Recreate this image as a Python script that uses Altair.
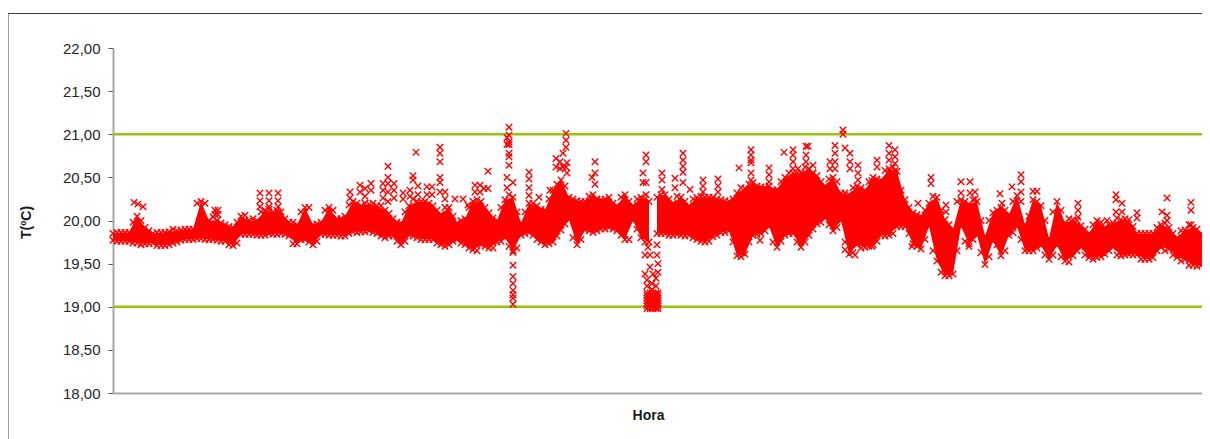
import altair as alt
import pandas as pd

# Lecturas a ojo del grafico: envolvente de la nube densa
col_x = list(range(113, 1202, 8)) + [1205]
col_lo = [19.77,19.76,19.76,19.74,19.73,19.74,19.71,19.72,19.75,19.78,
          19.78,19.79,19.78,19.77,19.76,19.71,19.84,19.84,19.83,19.83,
          19.84,19.85,19.82,19.73,19.78,19.72,19.84,19.83,19.83,19.82,
          19.87,19.87,19.88,19.85,19.80,19.82,19.72,19.83,19.80,19.78,
          19.78,19.72,19.72,19.78,19.72,19.66,19.72,19.68,19.75,19.80,
          19.65,19.83,19.86,19.78,19.72,19.75,19.89,20.01,19.72,19.89,
          19.86,19.90,19.92,19.88,19.78,20.00,19.80,19.75,19.85,19.85,
          19.83,19.83,19.83,19.78,19.75,19.81,19.86,19.88,19.59,19.61,
          19.83,19.85,19.93,19.69,19.83,19.85,19.69,19.83,19.96,20.03,
          19.88,20.00,19.61,19.72,19.69,19.72,19.83,19.83,19.93,19.93,
          19.73,19.67,19.93,19.53,19.36,19.38,19.93,19.73,19.83,19.49,
          19.76,19.59,19.83,19.93,19.65,19.65,19.71,19.55,19.71,19.53,
          19.59,19.69,19.57,19.57,19.61,19.69,19.59,19.61,19.61,19.55,
          19.57,19.69,19.67,19.57,19.55,19.48,19.48,19.58]
col_hi = [19.85,19.86,19.86,20.05,19.92,19.85,19.86,19.87,19.88,19.90,
          19.90,20.22,20.00,20.00,19.95,19.92,20.05,20.00,20.00,20.12,
          20.10,20.10,19.98,19.95,20.15,19.95,19.98,20.15,20.02,20.05,
          20.22,20.17,20.19,20.17,20.12,20.02,19.97,20.17,20.22,20.22,
          20.17,20.07,20.15,19.97,20.02,20.22,20.22,20.09,20.00,20.24,
          20.27,19.97,20.20,20.17,20.12,20.35,20.47,20.27,20.23,20.22,
          20.30,20.24,20.27,20.17,20.30,20.17,20.27,20.22,20.27,20.30,
          20.20,20.27,20.17,20.27,20.27,20.27,20.24,20.22,20.32,20.37,
          20.44,20.39,20.40,20.36,20.50,20.55,20.55,20.60,20.52,20.40,
          20.50,20.32,20.30,20.40,20.35,20.50,20.47,20.60,20.57,20.24,
          20.09,20.05,20.20,20.27,20.01,19.90,20.24,20.19,20.22,19.82,
          20.09,20.15,20.07,20.29,19.95,20.24,20.17,19.79,20.22,19.97,
          20.01,19.94,19.85,20.00,19.92,19.97,20.01,20.01,19.85,19.85,
          19.85,19.95,19.92,19.80,19.89,19.92,19.85,19.82]
gap_after = 649

# Segunda lectura, en posiciones intermedias
mid_x = [v for v in range(117, 1198, 8) if v != 653]
mid_hi = [19.86,19.86,19.98,20.00,19.88,19.86,19.86,19.90,19.89,19.90,
          20.20,20.20,20.04,19.97,19.93,19.98,20.06,20.02,20.10,20.13,
          20.12,20.02,19.98,20.10,20.15,19.96,20.12,20.12,20.02,20.18,
          20.20,20.20,20.20,20.17,20.08,19.98,20.10,20.25,20.22,20.20,
          20.12,20.15,20.05,20.00,20.15,20.24,20.15,20.03,20.15,20.30,
          20.10,20.10,20.20,20.13,20.25,20.42,20.40,20.25,20.22,20.28,
          20.25,20.25,20.20,20.27,20.22,20.25,20.25,20.30,20.25,20.28,
          20.22,20.25,20.28,20.27,20.25,20.23,20.25,20.38,20.42,20.40,
          20.38,20.35,20.45,20.55,20.55,20.62,20.55,20.45,20.48,20.45,
          20.32,20.38,20.38,20.45,20.48,20.58,20.62,20.35,20.15,20.07,
          20.12,20.28,20.12,19.95,20.22,20.22,20.24,20.00,20.00,20.12,
          20.12,20.22,20.22,20.05,20.22,20.00,20.10,20.12,20.02,20.00,
          19.90,19.95,19.98,19.95,20.03,20.02,19.93,19.85,19.85,19.92,
          19.97,19.85,19.88,19.95,19.90]
mid_lo = [19.76,19.76,19.74,19.72,19.73,19.71,19.71,19.74,19.77,19.78,
          19.79,19.78,19.78,19.76,19.72,19.74,19.84,19.84,19.83,19.85,
          19.84,19.84,19.73,19.78,19.75,19.76,19.84,19.83,19.82,19.85,
          19.86,19.87,19.86,19.82,19.82,19.76,19.76,19.82,19.78,19.78,
          19.74,19.70,19.76,19.74,19.68,19.65,19.70,19.68,19.76,19.70,
          19.68,19.85,19.83,19.75,19.73,19.82,19.96,19.80,19.78,19.88,
          19.88,19.90,19.90,19.83,19.78,19.90,19.75,19.85,19.83,19.84,
          19.82,19.80,19.76,19.76,19.83,19.86,19.75,19.58,19.75,19.84,
          19.88,19.75,19.76,19.85,19.75,19.75,19.90,19.98,19.95,19.92,
          19.75,19.63,19.68,19.70,19.76,19.82,19.85,19.93,19.85,19.70,
          19.78,19.65,19.40,19.36,19.65,19.76,19.78,19.63,19.58,19.72,
          19.65,19.86,19.78,19.65,19.68,19.60,19.60,19.58,19.52,19.65,
          19.60,19.55,19.58,19.65,19.60,19.60,19.60,19.55,19.55,19.65,
          19.65,19.60,19.53,19.48,19.47]

# Puntos sueltos: (posicion, [temperaturas])
sparse = [
    (134,[20.21]),(138,[20.19]),(143,[20.16]),(215,[20.12,20.07]),(218,[20.12,20.07]),
    (260,[20.32,20.23,20.16]),(269,[20.32,20.23,20.16]),(278,[20.32,20.23,20.16,20.09]),
    (350,[20.33,20.26]),(360,[20.41,20.33]),(365,[20.37,20.28]),(371,[20.43,20.35]),
    (383,[20.43,20.35,20.26]),(388,[20.63,20.50,20.43,20.33,20.22]),(394,[20.43,20.35,20.26]),
    (403,[20.32,20.25]),(410,[20.35,20.28]),(413,[20.52,20.47]),(416,[20.79]),(418,[20.40,20.30]),
    (427,[20.39,20.30]),(432,[20.39,20.30]),(440,[20.85,20.78,20.68,20.50,20.44,20.33]),
    (445,[20.33,20.25]),(455,[20.25]),(463,[20.25]),(468,[20.18]),(475,[20.41,20.33]),
    (480,[20.41,20.33]),(484,[20.37]),(488,[20.57,20.37]),
    (507,[20.50,20.38,20.96,20.88]),(509,[21.08,20.99,20.91,20.88,20.78,20.74,20.64]),
    (513,[20.44,19.63,19.48,19.35,19.27,19.19,19.14,19.10,19.03]),
    (529,[20.56,20.48,20.38,20.29]),(539,[20.27]),(550,[20.35]),
    (556,[20.72,20.62]),(560,[20.68,20.60]),(563,[20.78,20.62]),(566,[21.01,20.93,20.85,20.62]),
    (567,[20.67,20.55]),(592,[20.50]),(595,[20.68,20.55,20.42]),
    (643,[20.55,20.44]),(646,[20.76,20.68,20.44,20.30]),(648,[19.69]),(650,[19.60,19.46]),
    (645,[19.60,19.38]),(653,[19.38]),(657,[19.60,19.72]),(658,[19.50,19.40]),
    (662,[20.55,20.47,20.36]),(675,[20.49,20.38]),(683,[20.78,20.70,20.63,20.56,20.44]),
    (690,[20.36]),(703,[20.47,20.40,20.33]),(718,[20.48,20.40,20.33]),(739,[20.61]),
    (751,[20.82,20.76,20.70,20.67,20.55,20.47]),(769,[20.61,20.53,20.45]),(784,[20.79]),
    (793,[20.82,20.76,20.68,20.60]),(798,[20.60]),(806,[20.86,20.76,20.68]),(808,[20.86]),
    (813,[20.64,20.55]),(830,[20.68,20.60]),(835,[20.87,20.78,20.68,20.60]),
    (843,[21.05,21.00]),(845,[20.84,19.66]),(850,[20.78,20.68,20.60]),(855,[19.60]),
    (858,[20.64,20.55,20.47]),(872,[20.46,19.70]),(877,[20.70,20.62]),(889,[20.87,20.78,20.70]),
    (895,[20.82,20.74,20.66,20.58]),(760,[19.77]),
    (912,[19.70]),(918,[20.20]),(931,[20.50,20.43]),(946,[20.18,20.10]),(961,[20.45,20.32]),
    (969,[19.70]),(970,[20.45,20.32]),(975,[20.33,20.25]),(1000,[20.31]),(1002,[20.20]),
    (1012,[20.39]),(1021,[20.53,20.45,20.33]),(1033,[20.34]),(1037,[20.34]),
    (1078,[20.20,20.12,20.04]),(1107,[20.00]),(1116,[20.30,20.24,20.10]),(1122,[20.20,20.10]),
    (1137,[20.09,20.03]),(1162,[20.10]),(1167,[20.26,20.06,20.00]),(1191,[20.21,20.12,19.95]),
    (647,[19.24,19.31]),(652,[19.27,19.20]),(656,[19.24,19.33]),
]

# Bloque denso junto al limite inferior
block_x = [647, 650, 653, 656, 658]
block_y = [18.98, 19.01, 19.04, 19.07, 19.10, 19.13, 19.16]

limits = [19.0, 21.0]
y_ticks = [18.0, 18.5, 19.0, 19.5, 20.0, 20.5, 21.0, 21.5, 22.0]

RED = "#FF0000"
GREEN = "#99C40A"
CROSS = "M-1,-1L1,1M-1,1L1,-1"

band = pd.DataFrame({"hora": col_x, "lo": col_lo, "hi": col_hi})
band["tramo"] = [0 if v <= gap_after else 1 for v in col_x]

rows = []
for x, vals in sparse:
    rows += [{"hora": x, "t": y} for y in vals]
for x in block_x:
    rows += [{"hora": x, "t": y} for y in block_y]
for x, lo, hi in zip(col_x, col_lo, col_hi):
    rows += [{"hora": x, "t": lo}, {"hora": x, "t": hi}]
for x, lo, hi in zip(mid_x, mid_lo, mid_hi):
    rows += [{"hora": x, "t": lo}, {"hora": x, "t": hi}]
pts = pd.DataFrame(rows)

xs = alt.Scale(domain=[113, 1202], nice=False, zero=False)
ys = alt.Scale(domain=[18, 22], nice=False, zero=False)

y_axis = alt.Axis(
    title="T(ºC)", values=y_ticks, grid=False,
    labelExpr="replace(format(datum.value,'.2f'),'.',',')",
    labelFont="Liberation Sans", labelFontSize=15, labelColor="#262626", labelPadding=8,
    tickColor="#555555", tickSize=5, tickWidth=1,
    domainColor="#A8A8A8", domainWidth=2,
    titleFont="Liberation Sans", titleFontSize=14, titleFontWeight="bold", titleColor="#1a1a1a",
    titleX=-87, titleY=174, titleAlign="center", titleBaseline="middle", titleAngle=270,
)
x_axis = alt.Axis(
    title="Hora", labels=False, ticks=False, grid=False,
    domainColor="#A8A8A8", domainWidth=2,
    titleFont="Liberation Sans", titleFontSize=14, titleFontWeight="bold", titleColor="#1a1a1a",
    titleX=535, titleY=26, titleAlign="center", titleBaseline="alphabetic",
)

base_x = alt.X("hora:Q", scale=xs, axis=x_axis)
base_y = alt.Y("t:Q", scale=ys, axis=y_axis)

frame_top = alt.Chart(pd.DataFrame({"a": [0]})).mark_rule(color="#404040", strokeWidth=1).encode(
    x=alt.value(-105), x2=alt.value(1089), y=alt.value(-34.5))
frame_left = alt.Chart(pd.DataFrame({"a": [0]})).mark_rule(color="#404040", strokeWidth=1).encode(
    x=alt.value(-105), y=alt.value(-34.5), y2=alt.value(391))

lines = alt.Chart(pd.DataFrame({"t": limits})).mark_rule(color=GREEN, strokeWidth=2.5).encode(
    y=alt.Y("t:Q", scale=ys, axis=y_axis))

area = alt.Chart(band).mark_area(color=RED, opacity=1, interpolate="linear").encode(
    x=base_x, y=alt.Y("lo:Q", scale=ys, axis=y_axis), y2="hi:Q", detail="tramo:N")

marks = alt.Chart(pts).mark_point(shape=CROSS, filled=False, stroke=RED, strokeWidth=1.4, size=42, opacity=1).encode(
    x=base_x, y=base_y)

chart = alt.layer(lines, area, marks, frame_top, frame_left).properties(
    width=1089, height=345,
    autosize=alt.AutoSizeParams(type="none"),
    padding={"left": 105, "top": 40, "right": 0, "bottom": 46},
    background="white",
).configure_view(stroke=None)

chart.save("out.html", embed_options={"renderer": "svg", "actions": False})
